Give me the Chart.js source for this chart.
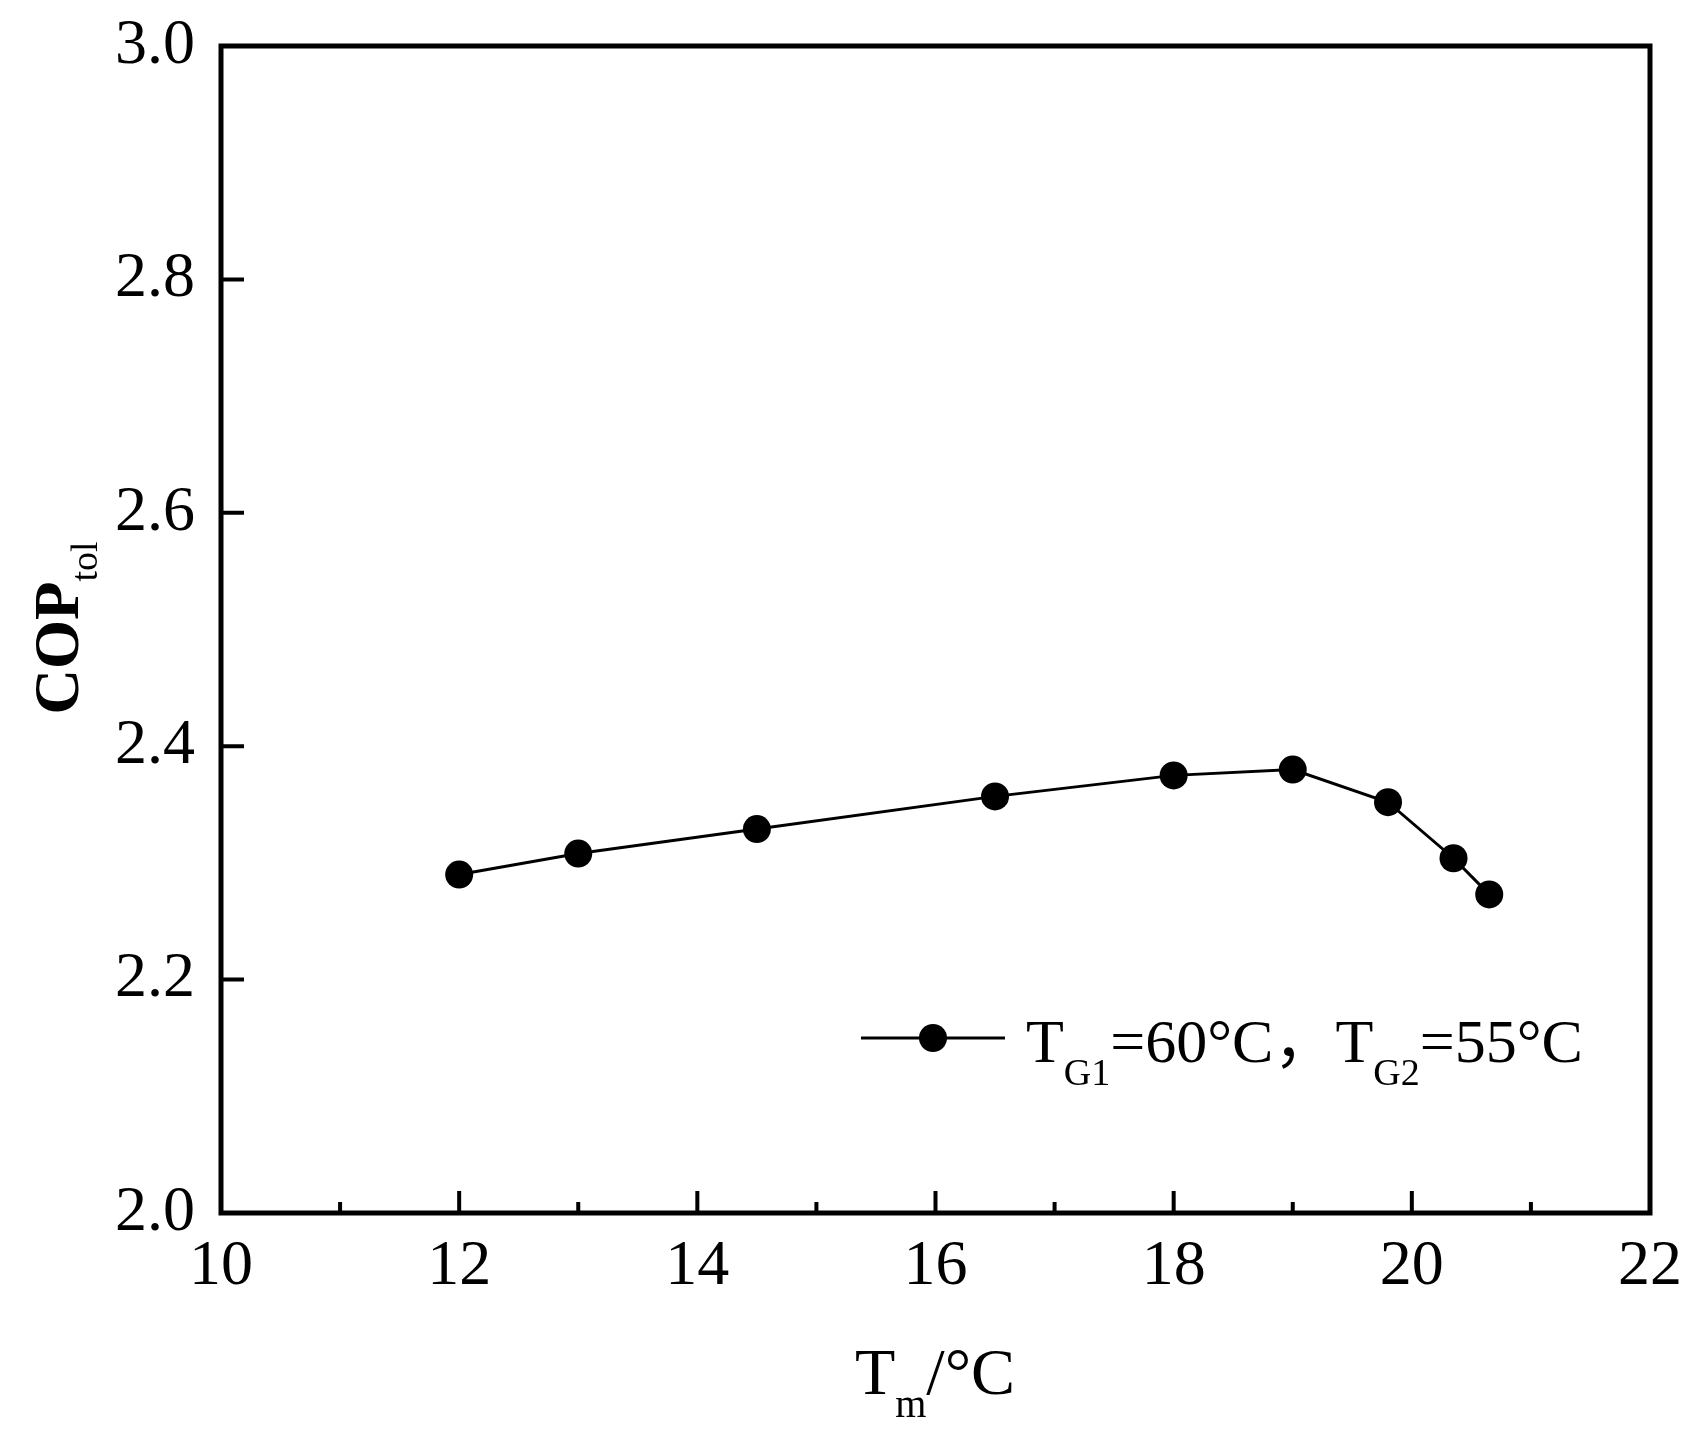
<!DOCTYPE html>
<html>
<head>
<meta charset="utf-8">
<script src="https://cdn.jsdelivr.net/npm/chart.js@4"></script>
<style>
  body { margin: 0; background: #fff; }
</style>
</head>
<body>
<canvas id="cop-chart" width="1702" height="1430"></canvas>
<script>
// data
const tmValues = [12, 13, 14.5, 16.5, 18, 19, 19.8, 20.35, 20.65];
const copValues = [2.290, 2.308, 2.329, 2.357, 2.375, 2.380, 2.352, 2.304, 2.273];
const xTicks = [10, 12, 14, 16, 18, 20, 22];
const xMinorTicks = [11, 13, 15, 17, 19, 21];
const yTicks = [2.0, 2.2, 2.4, 2.6, 2.8, 3.0];

const SERIF = '"Liberation Serif", "Times New Roman", serif';
const CJK = '"Noto Sans CJK SC", sans-serif';

// draw a run of text pieces (for subscripts), returns end x
function fontOf(p) {
    return (p.bold ? 'bold ' : '') + p.size + 'px ' + (p.family || SERIF);
}

function drawRich(ctx, parts, x, y) {
    for (const p of parts) {
        ctx.font = fontOf(p);
        ctx.fillText(p.text, x, y + (p.dy || 0));
        x += ctx.measureText(p.text).width;
    }
    return x;
}

function richWidth(ctx, parts) {
    let w = 0;
    for (const p of parts) {
        ctx.font = fontOf(p);
        w += ctx.measureText(p.text).width;
    }
    return w;
}

const framePlugin = {
    id: 'frame',
    afterDraw(chart) {
        const ctx = chart.ctx;
        const a = chart.chartArea;
        const xs = chart.scales.x, ys = chart.scales.y;
        ctx.save();
        ctx.strokeStyle = '#000';
        ctx.fillStyle = '#000';

        // box
        ctx.lineWidth = 5;
        ctx.strokeRect(a.left, a.top, a.right - a.left, a.bottom - a.top);

        // inward ticks
        ctx.lineWidth = 4;
        ctx.beginPath();
        xTicks.forEach(v => {
            const px = xs.getPixelForValue(v);
            ctx.moveTo(px, a.bottom);
            ctx.lineTo(px, a.bottom - 22);
        });
        xMinorTicks.forEach(v => {
            const px = xs.getPixelForValue(v);
            ctx.moveTo(px, a.bottom);
            ctx.lineTo(px, a.bottom - 11);
        });
        yTicks.forEach(v => {
            const py = ys.getPixelForValue(v);
            ctx.moveTo(a.left, py);
            ctx.lineTo(a.left + 23, py);
        });
        ctx.stroke();

        ctx.textBaseline = 'alphabetic';
        ctx.textAlign = 'left';

        // x title
        const xt = [
            { text: 'T', size: 66 },
            { text: 'm', size: 40, dy: 23 },
            { text: '/°C', size: 66 }
        ];
        drawRich(ctx, xt, 935 - richWidth(ctx, xt) / 2, 1394);

        // y title
        const yt = [
            { text: 'COP', size: 63, bold: true },
            { text: 'tol', size: 38, dy: 19 }
        ];
        ctx.save();
        ctx.translate(78, 628);
        ctx.rotate(-Math.PI / 2);
        drawRich(ctx, yt, -richWidth(ctx, yt) / 2, 0);
        ctx.restore();

        // legend
        ctx.lineWidth = 3;
        ctx.beginPath();
        ctx.moveTo(861, 1038);
        ctx.lineTo(1005, 1038);
        ctx.stroke();
        ctx.beginPath();
        ctx.arc(933, 1038, 14, 0, Math.PI * 2);
        ctx.fill();
        drawRich(ctx, [
            { text: 'T', size: 62 },
            { text: 'G1', size: 38, dy: 23 },
            { text: '=60°C', size: 62 },
            { text: '，', size: 62, family: CJK },
            { text: 'T', size: 62 },
            { text: 'G2', size: 38, dy: 23 },
            { text: '=55°C', size: 62 }
        ], 1026, 1062);

        ctx.restore();
    }
};

const ctx = document.getElementById('cop-chart');

const chart = new Chart(ctx, {
    type: 'line',
    data: {
        datasets: [{
            label: 'TG1=60°C，TG2=55°C',
            data: tmValues.map((x, i) => ({ x: x, y: copValues[i] })),
            borderColor: '#000',
            borderWidth: 3,
            backgroundColor: '#000',
            pointRadius: 14,
            pointBackgroundColor: '#000',
            pointBorderWidth: 0,
            tension: 0,
            fill: false,
            clip: false
        }]
    },
    options: {
        responsive: false,
        animation: false,
        layout: {
            padding: { top: 46, right: 52, left: 0, bottom: 0 }
        },
        scales: {
            x: {
                type: 'linear',
                min: 10,
                max: 22,
                afterFit: s => { s.height = 217; s.paddingLeft = 0; s.paddingRight = 0; },
                afterBuildTicks: s => { s.ticks = xTicks.map(v => ({ value: v })); },
                ticks: {
                    padding: 16,
                    color: '#000',
                    font: { family: SERIF, size: 64 },
                    maxRotation: 0,
                    callback: v => String(v)
                },
                grid: { display: false, drawTicks: false },
                border: { display: false }
            },
            y: {
                min: 2,
                max: 3,
                afterFit: s => { s.width = 221; s.paddingTop = 0; s.paddingBottom = 0; },
                afterBuildTicks: s => { s.ticks = yTicks.map(v => ({ value: v })); },
                ticks: {
                    padding: 26,
                    color: '#000',
                    font: { family: SERIF, size: 64 },
                    callback: v => v.toFixed(1)
                },
                grid: { display: false, drawTicks: false },
                border: { display: false }
            }
        },
        plugins: {
            legend: { display: false },
            tooltip: { enabled: false }
        }
    },
    plugins: [framePlugin]
});
</script>
</body>
</html>
